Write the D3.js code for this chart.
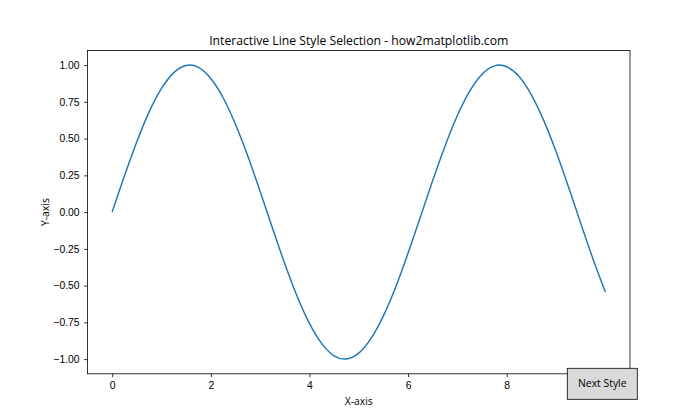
<!DOCTYPE html>
<html>
<head>
<meta charset="utf-8">
<script src="https://cdn.jsdelivr.net/npm/d3@7"></script>
<style>
  body { margin: 0; background: #fff; }
  svg { display: block; font-family: "Open Sans", "Noto Sans", sans-serif; }
  .axis path, .axis line { stroke: #000; stroke-width: 0.8px; }
  .axis text { fill: #000; font-size: 10.4px; }
</style>
</head>
<body>
<div id="chart"></div>
<script>
// values
const xVals = [0, 0.25, 0.5, 0.75, 1, 1.25, 1.5, 1.57, 1.75, 2, 2.25, 2.5, 2.75, 3, 3.25, 3.5, 3.75, 4, 4.25, 4.5, 4.71, 4.75, 5,
               5.25, 5.5, 5.75, 6, 6.25, 6.5, 6.75, 7, 7.25, 7.5, 7.75, 7.85, 8, 8.25, 8.5, 8.75, 9, 9.25, 9.5, 9.75, 10];
const yVals = [0, 0.247, 0.479, 0.682, 0.841, 0.949, 0.997, 1.0, 0.984, 0.909, 0.778, 0.598, 0.382, 0.141, -0.108, -0.351, -0.572, -0.757, -0.895, -0.978, -1.0, -0.999, -0.959,
               -0.859, -0.706, -0.510, -0.279, -0.033, 0.215, 0.450, 0.657, 0.823, 0.938, 0.995, 1.0, 0.989, 0.923, 0.798, 0.624, 0.412, 0.174, -0.075, -0.319, -0.544];
// the tick at 10 sits under the button, so it is not shown
const xTicks = [0, 2, 4, 6, 8];
const yTicks = [-1, -0.75, -0.5, -0.25, 0, 0.25, 0.5, 0.75, 1];

const w = 700, h = 420;
const padL = 87.5, padR = 630, padT = 50.4, padB = 373.8;

const svg = d3.select("#chart").append("svg")
    .attr("width", w)
    .attr("height", h);

const xScale = d3.scaleLinear().domain([-0.5, 10.5]).range([padL, padR]);
const yScale = d3.scaleLinear().domain([-1.1, 1.1]).range([padB, padT]);

const xAxis = d3.axisBottom(xScale).tickValues(xTicks).tickSize(3.4).tickPadding(4.5).tickFormat(d3.format("d"));
const yAxis = d3.axisLeft(yScale).tickValues(yTicks).tickSize(3.4).tickPadding(4.5).tickFormat(d3.format(".2f"));

svg.append("g")
    .attr("class", "axis")
    .attr("transform", "translate(0," + padB + ")")
    .call(xAxis)
    .call(g => g.select(".domain").remove());
svg.append("g")
    .attr("class", "axis")
    .attr("transform", "translate(" + padL + ",0)")
    .call(yAxis)
    .call(g => g.select(".domain").remove());

// frame
svg.append("rect")
    .attr("x", padL).attr("y", padT)
    .attr("width", padR - padL).attr("height", padB - padT)
    .attr("fill", "none").attr("stroke", "#000").attr("stroke-width", 0.8);

const line = d3.line()
    .x((d, i) => xScale(xVals[i]))
    .y(d => yScale(d))
    .curve(d3.curveMonotoneX);

svg.append("path")
    .datum(yVals)
    .attr("d", line)
    .attr("fill", "none")
    .attr("stroke", "#1f77b4")
    .attr("stroke-width", 1.46);

svg.append("text")
    .attr("x", (padL + padR) / 2)
    .attr("y", 44.5)
    .attr("text-anchor", "middle")
    .attr("font-size", "12.2px")
    .text("Interactive Line Style Selection - how2matplotlib.com");

svg.append("text")
    .attr("x", (padL + padR) / 2)
    .attr("y", 404.5)
    .attr("text-anchor", "middle")
    .attr("font-size", "10.4px")
    .text("X-axis");

svg.append("text")
    .attr("transform", "translate(48.5," + (padT + padB) / 2 + ") rotate(-90)")
    .attr("text-anchor", "middle")
    .attr("font-size", "10.4px")
    .text("Y-axis");

// button
const btn = svg.append("g");
btn.append("rect")
    .attr("x", 567.3).attr("y", 368.3)
    .attr("width", 70).attr("height", 31)
    .attr("fill", "#d9d9d9").attr("stroke", "#000").attr("stroke-width", 0.8);
btn.append("text")
    .attr("x", 602.3).attr("y", 383.8)
    .attr("dy", "0.35em")
    .attr("text-anchor", "middle")
    .attr("font-size", "10.4px")
    .text("Next Style");
</script>
</body>
</html>
